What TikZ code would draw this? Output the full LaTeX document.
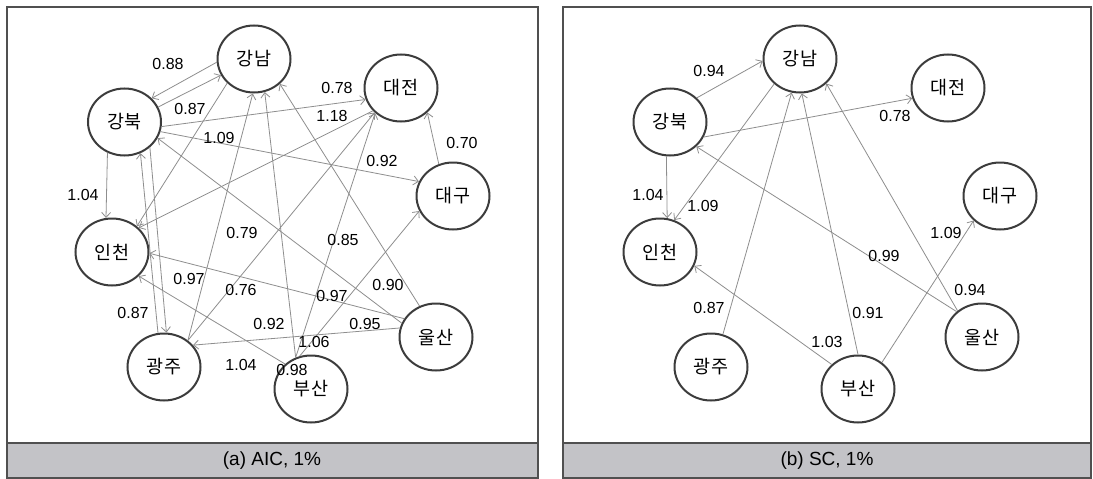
\documentclass[tikz,border=0pt]{standalone}
\usepackage{fontspec}
\setmainfont{Liberation Sans}
\newfontfamily\kr{Noto Sans CJK KR}
\usetikzlibrary{shapes.geometric,arrows.meta}
\definecolor{nodeline}{HTML}{3C3C3C}
\definecolor{edgegray}{HTML}{8E8E8E}
\definecolor{framegray}{HTML}{505050}
\definecolor{bandgray}{HTML}{C3C3C7}
\begin{document}
\begin{tikzpicture}[x=1pt,y=-1pt,
  city/.style={ellipse, draw=nodeline, line width=2pt, minimum width=73pt, minimum height=67pt, inner sep=0pt, font=\kr\fontsize{18.5}{20}\selectfont},
  link/.style={draw=edgegray, line width=0.8pt, -{Straight Barb[length=5pt,width=9pt]}},
  num/.style={font=\fontsize{16}{18}\selectfont, inner sep=0pt},
  panel/.style={draw=framegray, line width=1.5pt},
  band/.style={fill=bandgray, draw=framegray, line width=1.2pt},
  captext/.style={font=\fontsize{19}{22}\selectfont, inner sep=0pt}
]
\useasboundingbox (0,0) rectangle (1093,479);
\fill[white] (0,0) rectangle (1093,479);
% frames
\draw[panel] (7,7) rectangle (538,478);
\filldraw[band] (7,443) rectangle (538,478);
\node[captext] (capa) at (272,461) {(a) AIC, 1\%};
\draw[panel] (563,7) rectangle (1091,478);
\filldraw[band] (563,443) rectangle (1091,478);
\node[captext] (capb) at (827,461) {(b) SC, 1\%};

% left nodes
\node[city] (Lgn) at (254,59) {강남};
\node[city] (Lgb) at (124.5,122) {강북};
\node[city] (Ldj) at (401,88) {대전};
\node[city] (Ldg) at (453,196) {대구};
\node[city] (Lic) at (112,252) {인천};
\node[city] (Lgj) at (164,367) {광주};
\node[city] (Lbs) at (311,389) {부산};
\node[city] (Lus) at (436,337) {울산};

% left edges
\draw[link] (Lgn.185) -- (Lgb.41);
\draw[link] (Lgb.24) -- (Lgn.206);
\draw[link] (Lgb.353) -- (Ldj.198);
\draw[link] (Lgb.345) -- (Ldg.157);
\draw[link] (Ldg.114) -- (Ldj.317);
\draw[link] (Lgb.241) -- (Lic.100);
\draw[link] (Lgn.222) -- (Lic.46);
\draw[link] (Ldj.219) -- (Lic.42);
\draw[link] (Lgb.315) -- (Lgj.86);
\draw[link] (Lgj.100) -- (Lgb.297);
\draw[link] (Lgj.48) -- (Lgn.268);
\draw[link] (Lgj.48) -- (Ldj.223);
\draw[link] (Lbs.116) -- (Lgn.288);
\draw[link] (Lbs.116) -- (Ldj.224);
\draw[link] (Lbs.109) -- (Ldg.204);
\draw[link] (Lus.118) -- (Lgn.316);
\draw[link] (Lus.158) -- (Lgb.334);
\draw[link] (Lus.150) -- (Lic.358);
\draw[link] (Lus.166) -- (Lgj.37);
\draw[link] (Lbs.136) -- (Lic.318);

% left labels
\node[num] (la1) at (168,64) {0.88};
\node[num] (la2) at (190,109) {0.87};
\node[num] (la3) at (337,88) {0.78};
\node[num] (la4) at (332,116) {1.18};
\node[num] (la5) at (219,138) {1.09};
\node[num] (la6) at (382,161) {0.92};
\node[num] (la7) at (462,143) {0.70};
\node[num] (la8) at (83,195) {1.04};
\node[num] (la9) at (242,233) {0.79};
\node[num] (la10) at (343,240) {0.85};
\node[num] (la11) at (189,279) {0.97};
\node[num] (la12) at (241,290) {0.76};
\node[num] (la13) at (332,296) {0.97};
\node[num] (la14) at (388,285) {0.90};
\node[num] (la15) at (133,313) {0.87};
\node[num] (la16) at (269,324) {0.92};
\node[num] (la17) at (365,324) {0.95};
\node[num] (la18) at (314,342) {1.06};
\node[num] (la19) at (241,365) {1.04};
\node[num] (la20) at (292,370) {0.98};

% right nodes
\node[city] (Rgn) at (800,59) {강남};
\node[city] (Rgb) at (670,122) {강북};
\node[city] (Rdj) at (948,88) {대전};
\node[city] (Rdg) at (1000,196) {대구};
\node[city] (Ric) at (660,252) {인천};
\node[city] (Rgj) at (711,367) {광주};
\node[city] (Rbs) at (858,389) {부산};
\node[city] (Rus) at (982,337) {울산};

% right edges
\draw[link] (Rgb.42) -- (Rgn.183);
\draw[link] (Rgb.336) -- (Rdj.196);
\draw[link] (Rgb.264) -- (Ric.78);
\draw[link] (Rgn.224) -- (Ric.66);
\draw[link] (Rgj.70) -- (Rgn.256);
\draw[link] (Rbs.137) -- (Ric.338);
\draw[link] (Rbs.90) -- (Rgn.273);
\draw[link] (Rbs.48) -- (Rdg.223);
\draw[link] (Rus.135) -- (Rgb.317);
\draw[link] (Rus.133) -- (Rgn.317);

% right labels
\node[num] (lb1) at (709,71) {0.94};
\node[num] (lb2) at (895,116) {0.78};
\node[num] (lb3) at (648,195) {1.04};
\node[num] (lb4) at (703,206) {1.09};
\node[num] (lb5) at (946,233) {1.09};
\node[num] (lb6) at (709,308) {0.87};
\node[num] (lb7) at (827,342) {1.03};
\node[num] (lb8) at (868,313) {0.91};
\node[num] (lb9) at (884,256) {0.99};
\node[num] (lb10) at (970,290) {0.94};
\end{tikzpicture}
\end{document}
